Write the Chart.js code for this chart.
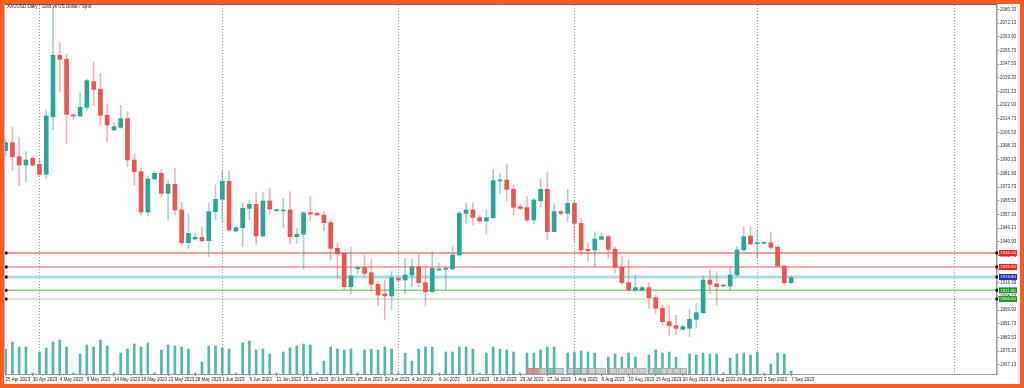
<!DOCTYPE html>
<html><head><meta charset="utf-8">
<script src="https://cdn.jsdelivr.net/npm/chart.js@4.4.1/dist/chart.umd.min.js"></script>
<style>html,body{margin:0;padding:0;background:#fff;overflow:hidden}canvas{display:block}</style>
</head><body>
<canvas id="c" width="1024" height="388"></canvas>
<script>
const chartTitle = 'XAUUSD,Daily : Gold vs US Dollar / Spot';
const opens = [
1995.6,2000.4,1992.0,1987.0,1991.0,1987.4,1981.4,2016.0,2052.8,2050.4,
2016.7,2016.4,2021.6,2037.0,2032.4,2016.8,2008.0,2009.6,2014.8,1990.0,
1983.0,1958.8,1978.6,1982.0,1970.0,1975.4,1960.0,1940.4,1942.6,1943.6,
1941.6,1959.0,1966.4,1977.2,1947.4,1949.4,1961.0,1963.4,1944.4,1965.4,
1959.6,1959.4,1960.0,1944.0,1945.4,1958.4,1958.0,1957.0,1952.4,1937.0,
1934.0,1914.0,1924.8,1925.4,1922.4,1915.4,1909.6,1908.4,1919.0,1918.0,
1921.0,1926.0,1916.4,1911.0,1924.0,1924.4,1924.6,1933.0,1958.0,1960.0,
1955.4,1953.4,1955.4,1977.4,1978.0,1972.4,1962.0,1961.4,1954.0,1965.6,
1972.4,1947.0,1959.0,1958.0,1964.0,1952.0,1936.4,1936.0,1942.4,1944.0,
1936.4,1925.6,1916.4,1912.0,1912.0,1913.4,1907.4,1901.0,1893.0,1890.6,
1888.4,1889.0,1894.4,1898.4,1918.0,1915.6,1914.4,1914.4,1921.0,1936.0,
1944.4,1939.8,1940.0,1940.4,1937.6,1926.4,1916.4];
const highs = [
2002.0,2010.0,2003.6,1995.0,1992.4,1991.2,2020.0,2081.8,2060.4,2053.6,
2018.0,2030.0,2038.4,2048.8,2042.0,2023.6,2012.4,2022.8,2019.0,1993.6,
1985.2,1980.4,1983.4,1984.0,1978.0,1985.0,1964.6,1957.6,1946.0,1949.6,
1964.0,1975.0,1984.0,1983.4,1950.4,1964.4,1966.0,1970.4,1970.4,1973.0,
1960.6,1967.0,1971.0,1949.0,1959.0,1968.0,1958.8,1959.0,1954.0,1940.0,
1934.2,1937.4,1926.4,1933.0,1930.4,1917.0,1918.0,1923.0,1919.8,1931.0,
1930.6,1934.0,1927.6,1935.0,1928.0,1926.4,1938.4,1959.0,1964.0,1964.4,
1956.4,1960.0,1984.4,1981.6,1987.6,1975.0,1963.6,1968.0,1967.0,1978.4,
1982.4,1964.0,1960.0,1972.4,1965.0,1955.0,1940.0,1947.0,1946.4,1945.0,
1938.0,1932.0,1930.0,1921.0,1914.4,1916.4,1909.0,1903.0,1903.0,1897.0,
1891.0,1900.4,1904.0,1920.4,1924.0,1922.4,1915.6,1926.0,1938.0,1950.0,
1950.0,1948.0,1941.4,1946.4,1939.0,1927.0,1920.4];
const lows = [
1992.4,1984.0,1974.4,1977.0,1986.0,1980.4,1978.6,2008.4,2030.8,2000.0,
2014.4,2016.0,2020.0,2022.4,2011.0,2001.0,2007.7,2009.0,1986.0,1975.0,
1957.0,1956.4,1978.0,1967.8,1954.0,1957.0,1939.0,1937.0,1942.0,1941.0,
1932.0,1954.0,1953.0,1947.0,1946.8,1938.0,1954.0,1939.4,1944.0,1957.0,
1958.8,1949.0,1940.0,1940.0,1924.4,1953.0,1956.4,1947.6,1930.0,1919.0,
1912.0,1910.0,1922.0,1920.0,1911.0,1902.6,1894.0,1900.0,1917.4,1910.0,
1914.0,1914.0,1902.4,1910.4,1923.4,1912.4,1924.0,1932.4,1952.0,1951.0,
1952.0,1946.0,1955.0,1970.0,1965.6,1957.0,1960.0,1953.0,1951.6,1962.0,
1942.4,1946.8,1957.0,1953.0,1941.0,1933.0,1929.0,1926.0,1942.0,1931.0,
1922.4,1915.0,1911.0,1911.0,1911.4,1901.0,1898.0,1891.0,1885.0,1885.0,
1888.0,1884.0,1889.0,1898.0,1910.0,1903.0,1913.8,1912.0,1920.0,1935.0,
1939.0,1931.2,1939.6,1936.4,1926.0,1915.0,1916.0];
const closes = [
2000.4,1992.0,1987.0,1990.0,1987.0,1981.4,2016.4,2052.8,2050.4,2017.4,
2016.4,2021.6,2037.6,2032.4,2016.8,2011.0,2010.0,2014.8,1990.0,1983.0,
1958.8,1978.6,1982.0,1970.0,1975.4,1960.0,1940.4,1946.0,1943.6,1941.6,
1959.0,1966.4,1977.2,1948.0,1949.4,1961.0,1963.4,1944.4,1965.4,1960.6,
1960.0,1960.0,1944.0,1945.4,1958.4,1957.6,1957.0,1952.4,1937.0,1933.6,
1914.0,1920.4,1925.4,1922.0,1915.4,1909.0,1908.4,1919.4,1918.0,1921.0,
1926.0,1916.4,1911.0,1925.0,1924.6,1925.0,1933.0,1958.0,1960.0,1955.6,
1953.4,1955.4,1977.6,1978.0,1972.4,1961.6,1961.0,1954.0,1966.0,1972.4,
1947.0,1959.0,1958.0,1964.0,1952.0,1936.0,1935.6,1942.6,1944.0,1936.4,
1925.6,1916.4,1912.0,1913.4,1913.4,1907.4,1901.0,1893.0,1890.6,1889.0,
1890.0,1894.4,1898.4,1918.0,1915.4,1914.0,1914.8,1921.0,1936.0,1944.0,
1939.6,1940.4,1940.4,1937.6,1926.4,1916.4,1919.4];
const volumes = [
25,32,27,27,1,22,26,32,34,27,
1,20,29,27,34,28,1,21,25,30,
27,31,1,24,29,28,27,25,1,12,
28,28,26,25,1,31,33,24,25,20,
1,22,26,28,30,29,1,13,27,25,
24,25,1,24,25,24,27,25,1,21,
13,25,27,27,1,22,22,27,27,25,
1,21,27,25,24,22,1,21,21,24,
27,27,1,21,22,23,22,21,1,17,
20,17,21,17,1,19,24,21,22,17,
1,20,19,21,20,20,1,16,20,21,
19,22,1,10,21,20,3];
const dateTickBars = [0,4,8,12,16,20,24,28,32,36,40,44,48,52,56,60,64,68,72,76,80,84,88,92,96,100,104,108,112,116];
const dateTickLabels = ['25 Apr 2023','30 Apr 2023','4 May 2023','9 May 2023','14 May 2023','18 May 2023','23 May 2023','28 May 2023',
'1 Jun 2023','6 Jun 2023','11 Jun 2023','15 Jun 2023','20 Jun 2023','25 Jun 2023','29 Jun 2023','4 Jul 2023','9 Jul 2023',
'13 Jul 2023','18 Jul 2023','23 Jul 2023','27 Jul 2023','1 Aug 2023','6 Aug 2023','10 Aug 2023','15 Aug 2023','20 Aug 2023',
'24 Aug 2023','29 Aug 2023','3 Sep 2023','7 Sep 2023'];
const priceTicks = [2080.33,2072.13,2063.93,2055.73,2047.53,2039.33,2031.13,2022.93,2014.73,2006.53,1998.33,1990.13,1981.93,
1973.73,1965.53,1957.33,1949.13,1940.93,1932.73,1924.53,1916.33,1908.13,1899.93,1891.73,1883.53,1875.33,1867.13];
const levels = [1934.2, 1925.8, 1919.8, 1911.8, 1906.6];
const separatorBars = [5, 32, 58, 84, 111, 140];
const eventStart = [77.0,77.9,78.9,80.0,81.1,83.0,84.0,85.0,86.0,87.1,89.1,90.4,91.6,92.5,93.5,95.0,95.8,96.8,97.7,98.6,99.6];
const eventEnd   = [77.9,78.7,79.7,80.9,82.4,83.9,84.9,85.9,87.1,88.6,90.3,91.5,92.4,93.4,94.6,95.7,96.7,97.6,98.5,99.5,100.6];
const eventKind  = ['r','r','g','t','g','g','t','g','g','g','g','g','g','g','g','g','t','g','g','g','g'];

// styles
const UP = '#26a69a', DN = '#ef5350';
const levelLineColor = ['rgba(240,70,70,0.55)','rgba(240,70,70,0.6)','#add8e6','rgba(60,180,60,0.6)','rgba(60,180,60,0.45)'];
const levelLineWidth = [2, 1.3, 3, 1.5, 1.2];
const levelBoxColor = ['#ff1f1f','#ff1f1f','#1a2fb0','#1e9a1e','#1e9a1e'];
const eventColor = {r:'#ee8a8a', g:'#cfcfcf', t:'#7ecdc4'};
const FONT = '"Liberation Sans", Arial, sans-serif';

const bull = closes.map((c,i)=>c>=opens[i]);
const idx = opens.map((_,i)=>i);

const deco = {
  id:'deco',
  beforeDraw(chart){
    const ctx = chart.ctx; ctx.save();
    ctx.fillStyle = '#ff5a1f'; ctx.fillRect(0,0,chart.width,chart.height);
    ctx.fillStyle = '#ffffff'; ctx.fillRect(4,4,chart.width-8,chart.height-8);
    ctx.restore();
  },
  beforeDatasetsDraw(chart){
    const {ctx, chartArea:a, scales:{x,y}} = chart;
    ctx.save();
    ctx.strokeStyle = '#9a9a9a'; ctx.lineWidth = 1; ctx.setLineDash([1,2]);
    separatorBars.forEach(b=>{
      const px = Math.round(x.getPixelForValue(b))+0.5;
      ctx.beginPath(); ctx.moveTo(px,a.top); ctx.lineTo(px,a.bottom); ctx.stroke();
    });
    ctx.setLineDash([]);
    levels.forEach((lv,i)=>{
      const py = y.getPixelForValue(lv);
      ctx.strokeStyle = levelLineColor[i]; ctx.lineWidth = levelLineWidth[i];
      ctx.beginPath(); ctx.moveTo(a.left,py); ctx.lineTo(a.right,py); ctx.stroke();
    });
    ctx.restore();
  },
  afterDraw(chart){
    const {ctx, chartArea:a, scales:{x,y}} = chart;
    ctx.save();
    // frame
    ctx.strokeStyle = '#666'; ctx.lineWidth = 1;
    ctx.beginPath(); ctx.moveTo(4, 4.5); ctx.lineTo(a.right, 4.5); ctx.stroke();
    ctx.strokeStyle = '#bbb';
    ctx.beginPath(); ctx.moveTo(4.5, 4); ctx.lineTo(4.5, a.bottom); ctx.stroke();
    // title
    ctx.fillStyle = '#222'; ctx.font = '4.6px ' + FONT; ctx.textBaseline = 'middle'; ctx.textAlign = 'left';
    ctx.fillText(chartTitle, 7, 7.2);
    // event boxes on time axis
    eventStart.forEach((s,i)=>{
      const x0 = x.getPixelForValue(s), x1 = x.getPixelForValue(eventEnd[i]);
      ctx.fillStyle = eventColor[eventKind[i]];
      ctx.fillRect(x0, a.bottom-6, x1-x0, 6);
      ctx.strokeStyle = '#888'; ctx.lineWidth = 0.5;
      ctx.strokeRect(x0+0.25, a.bottom-5.75, x1-x0-0.5, 5.5);
    });
    // level boxes
    ctx.font = '4.4px ' + FONT; ctx.textAlign = 'center';
    levels.forEach((lv,i)=>{
      const py = y.getPixelForValue(lv);
      ctx.fillStyle = '#111';
      ctx.fillRect(a.left, py-1.5, 2.5, 3);
      ctx.fillRect(a.right-1.5, py-1.5, 2.5, 3);
      ctx.fillStyle = levelBoxColor[i];
      ctx.fillRect(a.right+2, py-3, 18, 6);
      ctx.fillStyle = '#fff';
      ctx.fillText(lv.toFixed(2), a.right+11, py+0.2);
    });
    ctx.restore();
  }
};

new Chart(document.getElementById('c'), {
  type:'bar',
  data:{datasets:[
    {label:'body', data: idx.map(i=>({x:i, y:[opens[i], closes[i]]})),
     backgroundColor: bull.map(b=>b?UP:DN), barThickness:4, minBarLength:1, grouped:false, order:1, yAxisID:'y', borderWidth:0},
    {label:'wick', data: idx.map(i=>({x:i, y:[lows[i], highs[i]]})),
     backgroundColor: bull.map(b=>b?'rgba(38,166,154,0.45)':'rgba(239,83,80,0.45)'), barThickness:1, grouped:false, order:2, yAxisID:'y', borderWidth:0},
    {label:'volume', data: idx.map(i=>({x:i, y:volumes[i]})),
     backgroundColor:'rgba(38,166,154,0.8)', barThickness:2, grouped:false, order:3, yAxisID:'yv', borderWidth:0}
  ]},
  options:{
    responsive:false, animation:false, devicePixelRatio:1,
    layout:{padding:{left:5, top:5, right:0, bottom:0}},
    plugins:{legend:{display:false}, tooltip:{enabled:false}},
    scales:{
      x:{type:'linear', min:-0.09, max:146.4, offset:false,
         grid:{display:true, drawOnChartArea:false, drawTicks:true, tickLength:2, color:'#888', offset:false},
         border:{display:true, color:'#9a9a9a', width:1},
         ticks:{autoSkip:false, maxRotation:0, minRotation:0, align:'start', padding:1, color:'#222',
                font:{size:4.5, family:FONT},
                callback:(v)=>{const k=dateTickBars.indexOf(v); return k>=0?dateTickLabels[k]:'';}},
         afterBuildTicks:(s)=>{s.ticks = dateTickBars.map(v=>({value:v}));},
         afterFit:(s)=>{s.height = 14;}},
      y:{position:'right', min:1861.6, max:2083.0,
         grid:{drawOnChartArea:false, tickLength:2, color:'#888'},
         border:{display:true, color:'#9a9a9a', width:1.5},
         ticks:{autoSkip:false, padding:1, color:'#333', font:{size:4.5, family:FONT},
                callback:(v)=>Number(v).toFixed(2)},
         afterBuildTicks:(s)=>{s.ticks = priceTicks.map(v=>({value:v}));},
         afterFit:(s)=>{s.width = 27;}},
      yv:{display:false, min:0, max:369}
    }
  },
  plugins:[deco]
});
</script>
</body></html>
